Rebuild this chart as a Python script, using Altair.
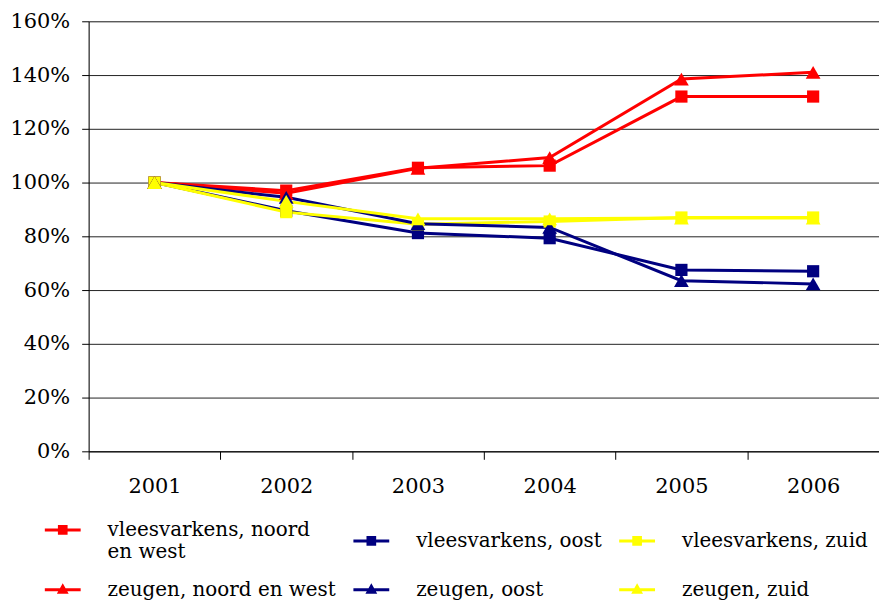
import altair as alt
import pandas as pd

years = [2001, 2002, 2003, 2004, 2005, 2006]
series_names = [
    "vleesvarkens, noord en west",
    "vleesvarkens, oost",
    "vleesvarkens, zuid",
    "zeugen, noord en west",
    "zeugen, oost",
    "zeugen, zuid",
]
vv_noord_west = [100, 97, 105.5, 106.3, 132, 132]
vv_oost = [100, 89.5, 81.2, 79.3, 67.5, 67]
vv_zuid = [100, 89, 84.5, 85.5, 87, 87]
zg_noord_west = [100, 96, 105.3, 109.3, 138.5, 141]
zg_oost = [100, 94.5, 84.7, 83.3, 63.5, 62.3]
zg_zuid = [100, 93, 86.5, 86.5, 86.8, 86.8]
series_colors = {
    "vleesvarkens, noord en west": "#ff0000",
    "vleesvarkens, oost": "#000080",
    "vleesvarkens, zuid": "#ffff00",
    "zeugen, noord en west": "#ff0000",
    "zeugen, oost": "#000080",
    "zeugen, zuid": "#ffff00",
}
y_ticks = [0, 0.2, 0.4, 0.6, 0.8, 1.0, 1.2, 1.4, 1.6]

# the legend fills column by column: this order makes rows read vleesvarkens / zeugen
legend_order = [
    "vleesvarkens, noord en west",
    "zeugen, noord en west",
    "vleesvarkens, oost",
    "zeugen, oost",
    "vleesvarkens, zuid",
    "zeugen, zuid",
]

all_values = [vv_noord_west, vv_oost, vv_zuid, zg_noord_west, zg_oost, zg_zuid]
rows = []
for name, vals in zip(series_names, all_values):
    kind = "square" if name.startswith("vlees") else "triangle"
    for yr, v in zip(years, vals):
        rows.append({"jaar": yr, "waarde": v / 100.0, "serie": name, "kind": kind})
df = pd.DataFrame(rows)

FONT = "DejaVu Serif"

line_sym = "M-1,-0.085H1V0.085H-1Z"
sq_sym = line_sym + "M-0.27,-0.27H0.27V0.27H-0.27Z"
tri_sym = line_sym + "M0,-0.36L0.33,0.22H-0.33Z"
legend_shapes = [sq_sym if n.startswith("vlees") else tri_sym for n in legend_order]
legend_colors = [series_colors[n] for n in legend_order]

legend = alt.Legend(
    title=None,
    orient="none",
    legendX=-44,
    legendY=493,
    columns=3,
    columnPadding=17,
    rowPadding=10,
    symbolSize=1296,
    symbolStrokeWidth=0,
    symbolOpacity=1,
    labelOffset=27,
    labelFont=FONT,
    labelFontSize=20,
    labelColor="black",
    labelLimit=400,
    labelExpr="datum.label == 'vleesvarkens, noord en west' ? ['vleesvarkens, noord', 'en west'] : datum.label",
)

color_enc = alt.Color(
    "serie:N",
    scale=alt.Scale(domain=legend_order, range=legend_colors),
    sort=legend_order,
    legend=legend,
)

x_vals = [2000.5, 2001, 2001.5, 2002, 2002.5, 2003, 2003.5, 2004, 2004.5, 2005, 2005.5, 2006]
x_enc = alt.X(
    "jaar:Q",
    scale=alt.Scale(domain=[2000.5, 2006.5], nice=False, zero=False),
    axis=alt.Axis(
        title=None,
        values=x_vals,
        labelExpr="datum.value % 1 == 0 ? format(datum.value, 'd') : ''",
        tickColor={"condition": {"test": "datum.value % 1 == 0", "value": "transparent"}, "value": "black"},
        grid=False,
        tickSize=8,
        labelPadding=16,
        labelFont=FONT,
        labelFontSize=21,
        labelColor="black",
        domainColor="black",
        labelFlush=False,
    ),
)
y_enc = alt.Y(
    "waarde:Q",
    scale=alt.Scale(domain=[0, 1.6], nice=False),
    axis=alt.Axis(
        title=None,
        values=y_ticks,
        format=".0%",
        grid=True,
        gridColor="#222222",
        gridWidth=1,
        tickSize=7,
        tickColor="black",
        labelPadding=12,
        labelFont=FONT,
        labelFontSize=21,
        labelColor="black",
        domainColor="black",
    ),
)

base = alt.Chart(df)

lines = base.mark_line(strokeWidth=3).encode(
    x=x_enc, y=y_enc, color=color_enc, detail="serie:N"
)
squares = base.transform_filter(alt.datum.kind == "square").mark_point(
    shape="square", filled=True, size=150, opacity=1
).encode(x=x_enc, y=y_enc, color=color_enc)
triangles = base.transform_filter(alt.datum.kind == "triangle").mark_point(
    shape="triangle-up", filled=True, size=220, opacity=1
).encode(x=x_enc, y=y_enc, color=color_enc)
legend_layer = base.transform_filter("false").mark_point(filled=True, opacity=1).encode(
    x=x_enc,
    y=y_enc,
    color=color_enc,
    shape=alt.Shape(
        "serie:N",
        scale=alt.Scale(domain=legend_order, range=legend_shapes),
        sort=legend_order,
        legend=legend,
    ),
)

chart = (
    alt.layer(lines, squares, triangles, legend_layer)
    .properties(
        width=794,
        height=432,
        autosize=alt.AutoSizeParams(type="none"),
        padding={"left": 81, "top": 12, "right": 0, "bottom": 148},
    )
    .configure_view(stroke=None)
    .configure(background="white")
)

chart.save("out.html", embed_options={"renderer": "svg", "actions": False})
